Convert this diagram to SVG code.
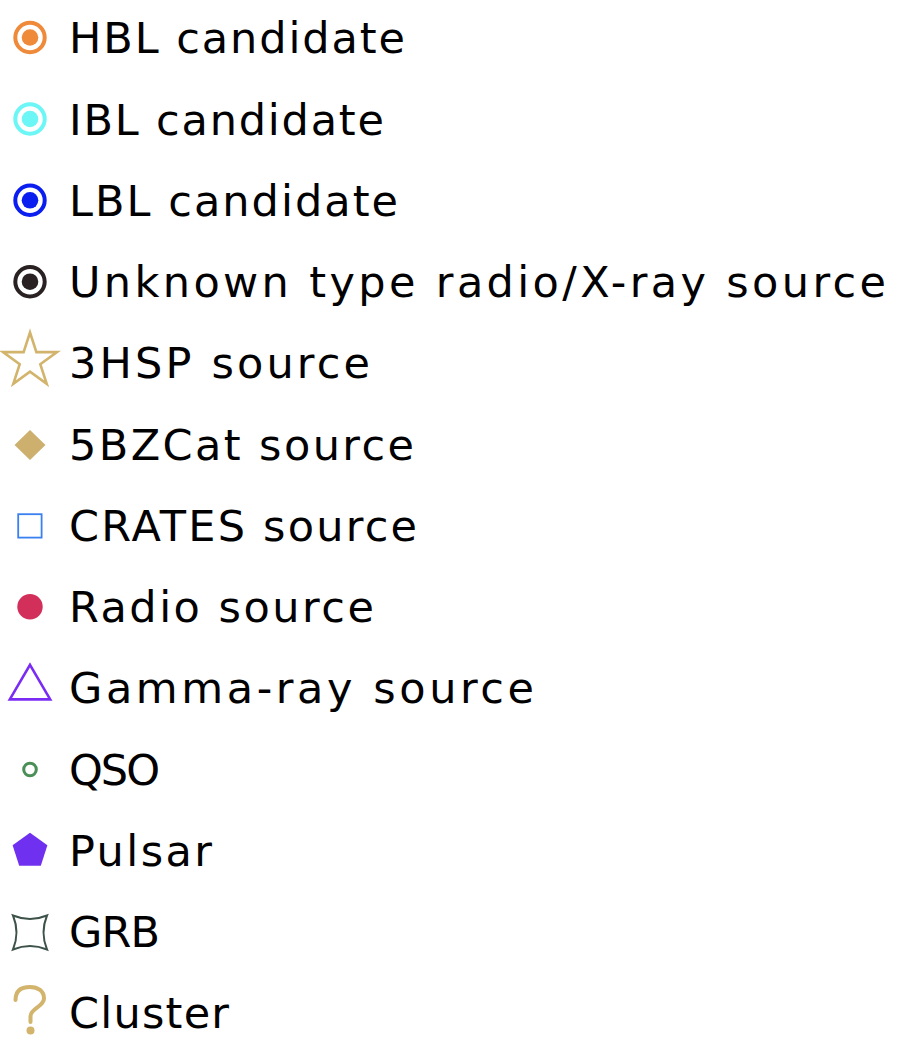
<svg xmlns="http://www.w3.org/2000/svg" width="902" height="1060" viewBox="0 0 902 1060">
  <style>
    .lbl { font-family: "DejaVu Sans", "Liberation Sans", sans-serif; font-size: 43px; fill: #000; }
    .ring { fill: none; stroke-width: 4; }
  </style>
  <rect width="902" height="1060" fill="#fff"/>

  <g id="hbl">
    <circle cx="30" cy="37.5" r="14.7" class="ring" stroke="#EE8A3A"/>
    <circle cx="30" cy="37.5" r="8.3" fill="#EE8A3A"/>
    <text class="lbl" x="69" y="53" textLength="336" lengthAdjust="spacing">HBL candidate</text>
  </g>
  <g id="ibl">
    <circle cx="30" cy="119" r="14.7" class="ring" stroke="#6CF6F6"/>
    <circle cx="30" cy="119" r="8.3" fill="#6CF6F6"/>
    <text class="lbl" x="69" y="134.5" textLength="315" lengthAdjust="spacing">IBL candidate</text>
  </g>
  <g id="lbl">
    <circle cx="30" cy="200.3" r="14.7" class="ring" stroke="#0A1EF0"/>
    <circle cx="30" cy="200.3" r="8.3" fill="#0A1EF0"/>
    <text class="lbl" x="69" y="215.8" textLength="329" lengthAdjust="spacing">LBL candidate</text>
  </g>
  <g id="unknown">
    <circle cx="30" cy="281.7" r="14.7" class="ring" stroke="#2A2222"/>
    <circle cx="30" cy="281.7" r="8.3" fill="#2A2222"/>
    <text class="lbl" x="69" y="297" textLength="817" lengthAdjust="spacing">Unknown type radio/X-ray source</text>
  </g>
  <g id="hsp3">
    <polygon points="30,332.5 36.4,352.1 57,352.1 40.3,364.2 46.7,383.8 30,371.7 13.3,383.8 19.7,364.2 3,352.1 23.6,352.1" fill="none" stroke="#D2B46C" stroke-width="2.6" stroke-linejoin="miter"/>
    <text class="lbl" x="69" y="378.3" textLength="301" lengthAdjust="spacing">3HSP source</text>
  </g>
  <g id="bzcat5">
    <polygon points="30,430 45.5,445 30,460 14.5,445" fill="#CDB06E"/>
    <text class="lbl" x="69" y="459.5" textLength="345" lengthAdjust="spacing">5BZCat source</text>
  </g>
  <g id="crates">
    <rect x="18.2" y="514.2" width="23.4" height="23.4" fill="none" stroke="#3A80F0" stroke-width="1.8"/>
    <text class="lbl" x="69" y="540.8" textLength="348" lengthAdjust="spacing">CRATES source</text>
  </g>
  <g id="radio">
    <circle cx="30" cy="606.7" r="12.7" fill="#D2305A"/>
    <text class="lbl" x="69" y="622" textLength="305" lengthAdjust="spacing">Radio source</text>
  </g>
  <g id="gamma">
    <polygon points="30,664.8 50.2,699.4 9.8,699.4" fill="none" stroke="#7A2CF5" stroke-width="2.6"/>
    <text class="lbl" x="69" y="703.3" textLength="465" lengthAdjust="spacing">Gamma-ray source</text>
  </g>
  <g id="qso">
    <circle cx="30" cy="769.5" r="6.3" fill="none" stroke="#4A8F55" stroke-width="3"/>
    <text class="lbl" x="69" y="784.5" textLength="91" lengthAdjust="spacing">QSO</text>
  </g>
  <g id="pulsar">
    <polygon points="30,832.7 47.4,845.3 40.8,865.8 19.2,865.8 12.6,845.3" fill="#7030F0"/>
    <text class="lbl" x="69" y="865.8" textLength="143" lengthAdjust="spacing">Pulsar</text>
  </g>
  <g id="grb">
    <path d="M13,915.5 Q30,922.5 47,915.5 Q40,932.5 47,949.5 Q30,942.5 13,949.5 Q20,932.5 13,915.5 Z" fill="none" stroke="#3D5249" stroke-width="2"/>
    <text class="lbl" x="69" y="947" textLength="91" lengthAdjust="spacing">GRB</text>
  </g>
  <g id="cluster">
    <path d="M15.5,1000 C15.5,990 22,987 30,987 C38,987 44,991 44,998.5 C44,1006.5 31,1008 30.5,1016 L30.5,1022" fill="none" stroke="#D2B46C" stroke-width="4" stroke-linecap="round" stroke-linejoin="round"/>
    <circle cx="30.5" cy="1030.5" r="4" fill="#D2B46C"/>
    <text class="lbl" x="69" y="1028.3" textLength="160" lengthAdjust="spacing">Cluster</text>
  </g>
</svg>
